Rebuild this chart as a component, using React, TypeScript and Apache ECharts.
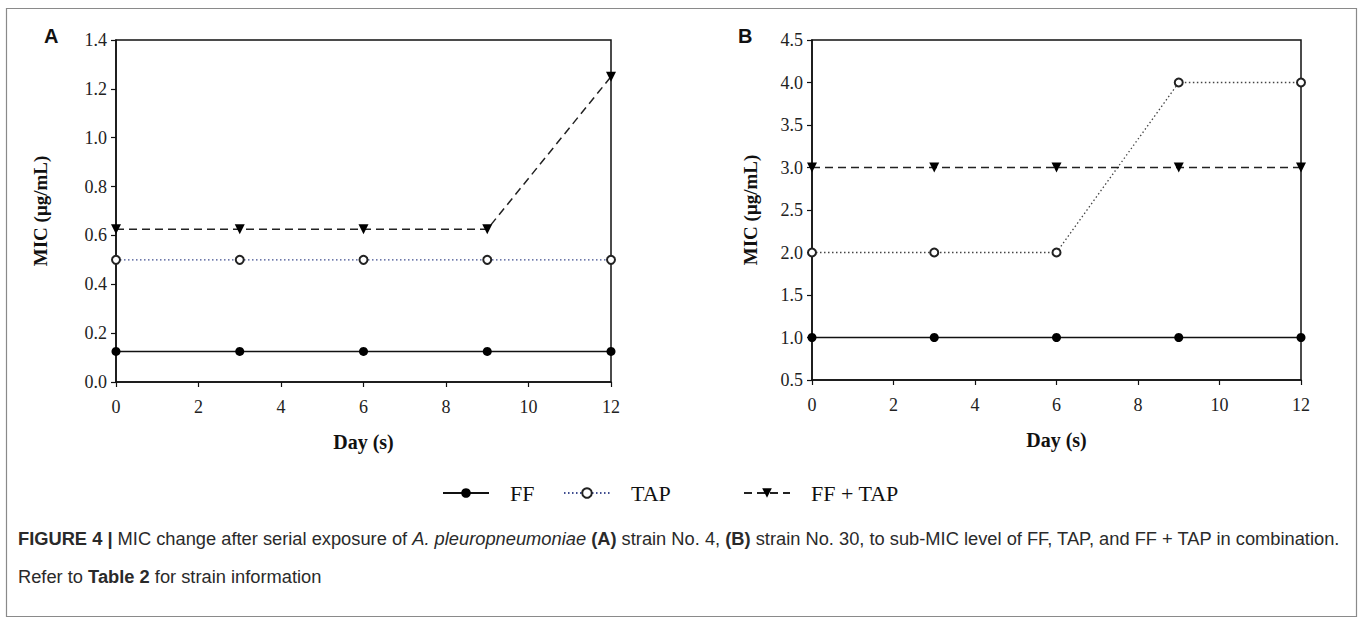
import React, { useEffect, useRef } from "react";
import * as echarts from "echarts";

const days = [0, 3, 6, 9, 12];
const xTicks = [0, 2, 4, 6, 8, 10, 12];
const seriesNames = ["FF", "TAP", "FF + TAP"];
// Panel A: strain No. 4
const aFF = [0.125, 0.125, 0.125, 0.125, 0.125];
const aTAP = [0.5, 0.5, 0.5, 0.5, 0.5];
const aCombo = [0.625, 0.625, 0.625, 0.625, 1.25];
// Panel B: strain No. 30
const bFF = [1, 1, 1, 1, 1];
const bTAP = [2, 2, 2, 4, 4];
const bCombo = [3, 3, 3, 3, 3];

const SERIF = "'Liberation Serif', 'Times New Roman', serif";
const NARROW = "'Liberation Sans Narrow', 'Arial Narrow', 'Liberation Sans', sans-serif";

function pairs(vals: number[]) {
  return days.map((d, i) => [d, vals[i]]);
}

export default function App() {
  const ref = useRef<HTMLDivElement>(null);
  useEffect(() => {
    if (!ref.current) return;
    const chart = echarts.init(ref.current, undefined, { renderer: "svg" });

    const xAxisBase = (gridIndex: number) => ({
      type: "value",
      gridIndex,
      min: xTicks[0],
      max: xTicks[xTicks.length - 1],
      interval: 2,
      name: "Day (s)",
      nameLocation: "middle",
      nameGap: 50,
      nameTextStyle: { fontFamily: SERIF, fontWeight: "bold", fontSize: 20, color: "#111" },
      axisLine: { show: true, lineStyle: { color: "#111", width: 1.5 } },
      axisTick: { show: true, inside: false, length: 5, lineStyle: { color: "#111", width: 1.2 } },
      axisLabel: { fontFamily: SERIF, fontSize: 18, color: "#222", margin: 16 },
      splitLine: { show: false },
    });

    const yAxisBase = (gridIndex: number, min: number, max: number, interval: number, nameGap: number) => ({
      type: "value",
      gridIndex,
      min,
      max,
      interval,
      name: "MIC (μg/mL)",
      nameLocation: "middle",
      nameRotate: 90,
      nameGap,
      nameTextStyle: { fontFamily: SERIF, fontWeight: "bold", fontSize: 19, color: "#111" },
      axisLine: { show: true, lineStyle: { color: "#111", width: 1.5 } },
      axisTick: { show: true, inside: false, length: 5, lineStyle: { color: "#111", width: 1.2 } },
      axisLabel: {
        fontFamily: SERIF,
        fontSize: 18,
        color: "#222",
        margin: 9,
        formatter: (v: number) => v.toFixed(1),
      },
      splitLine: { show: false },
    });

    const mk = (
      name: string,
      idx: number,
      vals: number[],
      kind: "ff" | "tap" | "combo",
      tapColor: string
    ) => {
      const base: any = {
        name,
        type: "line",
        xAxisIndex: idx,
        yAxisIndex: idx,
        data: pairs(vals),
        showSymbol: true,
        z: kind === "ff" ? 3 : kind === "tap" ? 4 : 5,
      };
      if (kind === "ff") {
        base.symbol = "circle";
        base.symbolSize = 9;
        base.lineStyle = { color: "#111", width: 1.5, type: "solid" };
        base.itemStyle = { color: "#000" };
      } else if (kind === "tap") {
        base.symbol = "emptyCircle";
        base.symbolSize = 8;
        base.lineStyle = { color: tapColor, width: 1.3, type: [1.5, 2.5] };
        base.itemStyle = { color: "#222", borderColor: "#222", borderWidth: 1.2 };
      } else {
        base.symbol = "triangle";
        base.symbolRotate = 180;
        base.symbolSize = 10;
        base.lineStyle = { color: "#222", width: 1.5, type: [8, 5] };
        base.itemStyle = { color: "#000" };
      }
      return base;
    };

    const legendBase = (name: string, left: number) => ({
      data: [name],
      left,
      top: 477,
      itemWidth: 46,
      itemHeight: 12,
      selectedMode: false,
      textStyle: { fontFamily: SERIF, fontSize: 22, color: "#111", padding: [0, 0, 0, 16] },
    });

    chart.setOption({
      animation: false,
      backgroundColor: "#fff",
      grid: [
        { left: 116, right: 747, top: 40, bottom: 239, show: true, borderColor: "#111", borderWidth: 1.5, containLabel: false },
        { left: 812, right: 57, top: 40, bottom: 241, show: true, borderColor: "#111", borderWidth: 1.5, containLabel: false },
      ],
      xAxis: [xAxisBase(0), xAxisBase(1)],
      yAxis: [yAxisBase(0, 0, 1.4, 0.2, 66), yAxisBase(1, 0.5, 4.5, 0.5, 52)],
      legend: [
        legendBase(seriesNames[0], 437),
        legendBase(seriesNames[1], 558),
        legendBase(seriesNames[2], 738),
      ],
      series: [
        mk(seriesNames[0], 0, aFF, "ff", ""),
        mk(seriesNames[1], 0, aTAP, "tap", "#3f4d8f"),
        mk(seriesNames[2], 0, aCombo, "combo", ""),
        mk(seriesNames[0], 1, bFF, "ff", ""),
        mk(seriesNames[1], 1, bTAP, "tap", "#444"),
        mk(seriesNames[2], 1, bCombo, "combo", ""),
      ],
      graphic: [
        {
          type: "rect",
          shape: { x: 6.5, y: 8.5, width: 1350, height: 608 },
          style: { fill: "none", stroke: "#8a8a8a", lineWidth: 1.2 },
          silent: true,
          z: 0,
        },
        {
          type: "text",
          left: 44,
          top: 26,
          style: { text: "A", font: "bold 20px 'Liberation Sans', Arial, sans-serif", fill: "#111" },
        },
        {
          type: "text",
          left: 738,
          top: 26,
          style: { text: "B", font: "bold 20px 'Liberation Sans', Arial, sans-serif", fill: "#111" },
        },
        {
          type: "text",
          left: 18,
          top: 529,
          style: {
            text:
              "{b|FIGURE 4 |} MIC change after serial exposure of {i|A. pleuropneumoniae} {b|(A)} strain No. 4, {b|(B)} strain No. 30, to sub-MIC level of FF, TAP, and FF + TAP in combination.",
            font: `18.3px ${NARROW}`,
            fill: "#2a2a2a",
            rich: {
              b: { fontFamily: NARROW, fontSize: 18.3, fontWeight: "bold", fill: "#2a2a2a" },
              i: { fontFamily: NARROW, fontSize: 18.3, fontStyle: "italic", fill: "#2a2a2a" },
            },
          },
        },
        {
          type: "text",
          left: 18,
          top: 567,
          style: {
            text: "Refer to {b|Table 2} for strain information",
            font: `18.3px ${NARROW}`,
            fill: "#2a2a2a",
            rich: {
              b: { fontFamily: NARROW, fontSize: 18.3, fontWeight: "bold", fill: "#2a2a2a" },
            },
          },
        },
      ],
    });
    return () => chart.dispose();
  }, []);

  return (
    <div
      ref={ref}
      style={{ position: "fixed", left: 0, top: 0, width: 1358, height: 621, background: "#fff" }}
    />
  );
}
